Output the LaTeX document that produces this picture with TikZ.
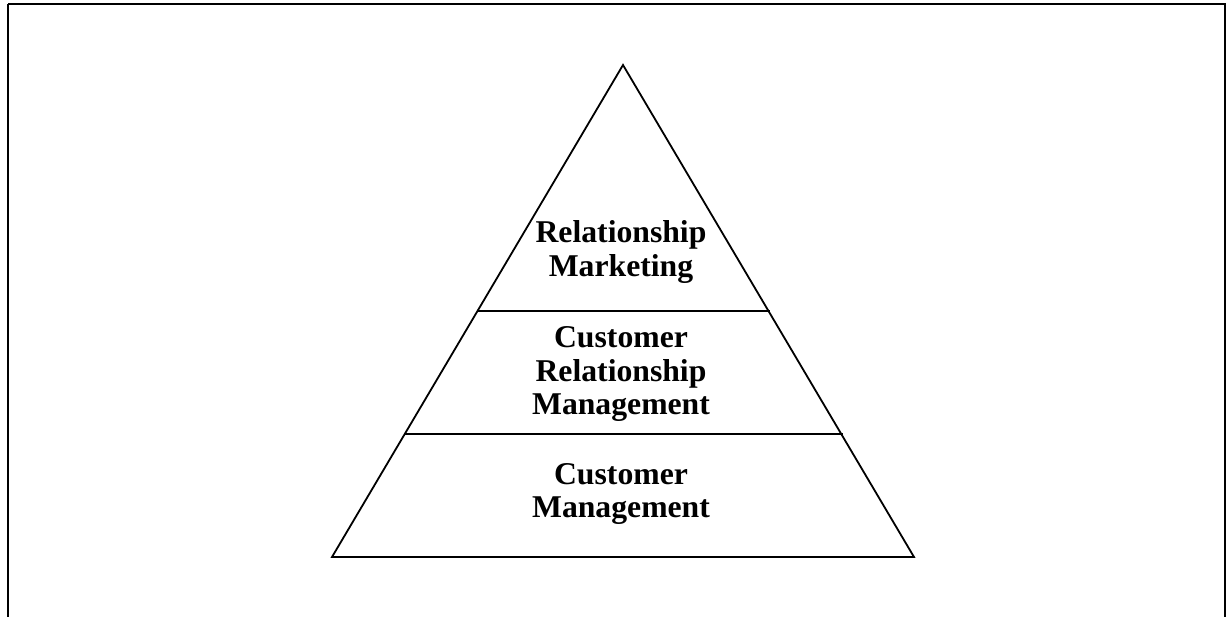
\documentclass[tikz,border=0pt]{standalone}
\usepackage{fontspec}
\setmainfont{Liberation Serif}
\begin{document}
\begin{tikzpicture}[x=1pt,y=-1pt,
  edge/.style={line width=1.8pt,line join=miter},
  label/.style={font=\bfseries\fontsize{31.7}{33.5}\selectfont,align=center,inner sep=0pt,anchor=center}]
\useasboundingbox (0,0) rectangle (1226,616);
\draw[line width=1.8pt] (8,4) -- (1225,4) -- (1225,630) (8,4) -- (8,630);
\coordinate (apex) at (623,65);
\coordinate (bl) at (332,557);
\coordinate (br) at (914,557);
\coordinate (l1) at (478,311);
\coordinate (r1) at (770,311);
\coordinate (l2) at (405,434);
\coordinate (r2) at (843,434);
\draw[edge] (apex) -- (bl) -- (br) -- cycle;
\draw[edge] (l1) -- (r1);
\draw[edge] (l2) -- (r2);
\node[label] (rm) at (621,252) {Relationship\\Marketing};
\node[label] (crm) at (621,374) {Customer\\Relationship\\Management};
\node[label] (cm) at (621,494) {Customer\\Management};
\end{tikzpicture}
\end{document}
